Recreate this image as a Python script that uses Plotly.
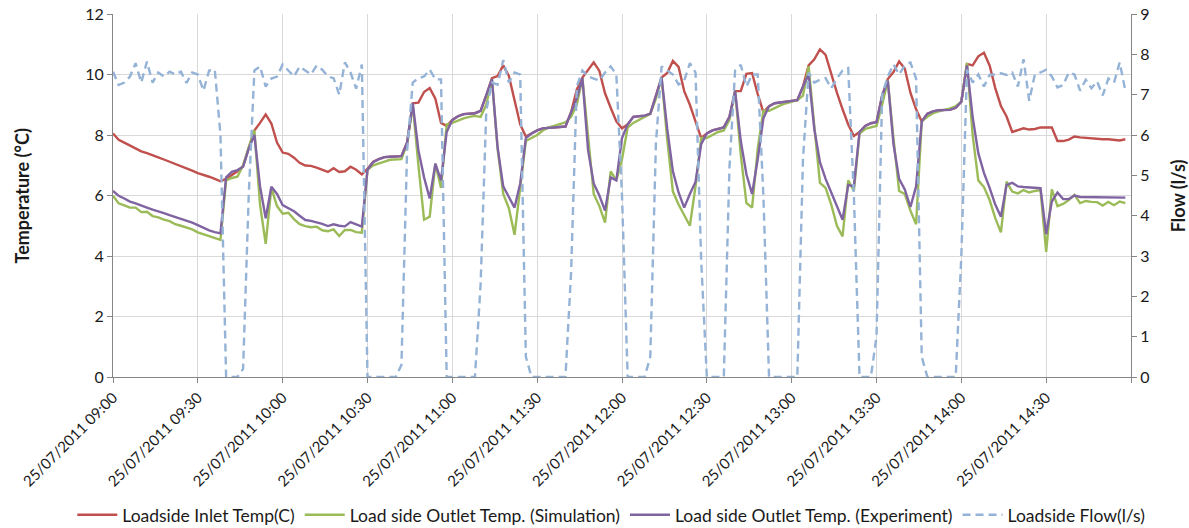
import plotly.graph_objects as go
import pandas as pd

# ---------------- data (2-minute samples, 25/07/2011 09:00 - 14:58) ----------------
times = pd.date_range("2011-07-25 09:00", periods=180, freq="2min")

inlet_temp = [
    8.05, 7.84, 7.75, 7.65, 7.55, 7.46, 7.40, 7.34, 7.26, 7.19, 7.12, 7.05, 6.97, 6.90, 6.82, 6.74, 6.69, 6.62, 6.55, 6.47,
    6.55, 6.68, 6.80, 6.97, 7.60, 8.15, 8.40, 8.68, 8.38, 7.75, 7.42, 7.38, 7.25, 7.08, 6.99, 6.98, 6.92, 6.84, 6.78, 6.90,
    6.78, 6.80, 6.95, 6.85, 6.70,
    6.88, 7.12, 7.20, 7.27, 7.28, 7.29, 7.30, 7.75,
    9.05, 9.07, 9.42, 9.55, 9.20, 8.40, 8.30, 8.50, 8.62, 8.69, 8.70, 8.72, 8.80,
    9.30, 9.88, 9.95, 10.30, 9.95, 9.15, 8.35, 7.95, 8.05, 8.15, 8.22, 8.24, 8.26, 8.27, 8.28, 8.75, 9.50,
    9.90, 10.15, 10.40, 10.12, 9.38, 8.90, 8.45, 8.22, 8.35, 8.60, 8.62, 8.64, 8.70, 9.30, 9.90, 10.05, 10.45, 10.25,
    9.45, 9.00, 8.45, 7.90,
    8.05, 8.15, 8.20, 8.25, 8.60, 9.45, 9.45, 10.02, 10.05, 9.35, 8.75, 8.95, 9.05, 9.08, 9.10, 9.12, 9.15, 9.60, 10.30,
    10.50, 10.83, 10.65, 10.00, 9.40, 8.85, 8.35, 7.97, 8.10, 8.30, 8.39, 8.42, 9.30, 9.85, 10.08, 10.43, 10.20, 9.40,
    8.85, 8.45, 8.70, 8.78, 8.82, 8.83, 8.84, 8.90, 9.10,
    10.35, 10.30, 10.60, 10.72, 10.30, 9.55, 8.96, 8.61, 8.10, 8.15, 8.22, 8.18, 8.20, 8.25, 8.26, 8.25, 7.80, 7.80,
    7.85, 7.95, 7.92, 7.90, 7.88, 7.87, 7.86, 7.86, 7.85, 7.82, 7.86,
]

outlet_sim = [
    5.99, 5.74, 5.67, 5.60, 5.60, 5.45, 5.46, 5.32, 5.28, 5.20, 5.15, 5.05, 5.00, 4.93, 4.88, 4.78, 4.72, 4.64, 4.60, 4.53,
    6.50, 6.58, 6.62, 7.00, 7.60, 8.15, 5.70, 4.40, 6.25, 5.65, 5.40, 5.43, 5.22, 5.05, 4.99, 4.95, 4.97, 4.85, 4.82, 4.88,
    4.66, 4.86, 4.86, 4.79, 4.77,
    6.85, 7.00, 7.05, 7.12, 7.18, 7.19, 7.20, 7.70,
    9.00, 7.00, 5.20, 5.30, 7.05, 6.25, 8.35, 8.40, 8.48, 8.55, 8.60, 8.63, 8.60,
    9.00, 9.85, 7.55, 6.05, 5.58, 4.70, 6.20, 7.80, 7.90, 8.00, 8.15, 8.25, 8.30, 8.37, 8.42, 8.60, 9.00,
    9.88, 7.90, 6.05, 5.65, 5.10, 6.80, 6.50, 7.20, 8.25, 8.40, 8.50, 8.60, 8.70, 9.20, 9.90, 7.85, 6.13, 5.70,
    5.35, 5.00, 6.30, 7.90,
    7.90, 8.00, 8.10, 8.15, 8.50, 9.45, 7.35, 5.75, 5.60, 7.55, 8.80, 8.80, 8.90, 8.98, 9.05, 9.10, 9.15, 9.30, 10.27,
    8.30, 6.42, 6.25, 5.70, 5.00, 4.65, 6.50, 6.15, 8.05, 8.20, 8.25, 8.30, 9.00, 9.80, 7.90, 6.15, 6.05, 5.50,
    5.05, 8.45, 8.60, 8.72, 8.78, 8.82, 8.88, 8.95, 9.10,
    10.38, 8.00, 6.50, 6.28, 5.85, 5.25, 4.78, 6.46, 6.13, 6.07, 6.18, 6.10, 6.15, 6.18, 4.14, 6.20, 5.65, 5.72,
    5.85, 6.02, 5.75, 5.82, 5.79, 5.78, 5.67, 5.79, 5.68, 5.80, 5.75,
]

outlet_exp = [
    6.15, 5.99, 5.90, 5.80, 5.74, 5.68, 5.60, 5.53, 5.48, 5.42, 5.35, 5.29, 5.23, 5.17, 5.10, 5.02, 4.93, 4.85, 4.79, 4.75,
    6.60, 6.78, 6.84, 6.95, 7.55, 8.00, 6.30, 5.25, 6.29, 6.05, 5.68, 5.58, 5.48, 5.33, 5.19, 5.16, 5.12, 5.06, 4.99, 5.05,
    5.00, 4.98, 5.12, 5.05, 4.97,
    6.85, 7.10, 7.20, 7.27, 7.28, 7.29, 7.30, 7.75,
    9.05, 7.50, 6.60, 5.90, 7.05, 6.50, 8.10, 8.50, 8.62, 8.69, 8.70, 8.72, 8.80,
    9.30, 9.85, 7.60, 6.30, 5.95, 5.60, 6.40, 7.90, 8.05, 8.15, 8.22, 8.24, 8.26, 8.27, 8.28, 8.75, 9.20,
    9.88, 7.50, 6.40, 6.00, 5.50, 6.60, 6.50, 7.90, 8.35, 8.60, 8.62, 8.64, 8.70, 9.30, 9.90, 8.20, 6.80, 6.10,
    5.60, 6.05, 6.45, 7.70,
    8.05, 8.15, 8.20, 8.25, 8.60, 9.45, 7.80, 6.70, 6.05, 7.20, 8.55, 8.95, 9.05, 9.08, 9.10, 9.12, 9.15, 9.60, 10.00,
    8.20, 7.10, 6.55, 6.10, 5.60, 5.20, 6.35, 6.30, 8.10, 8.30, 8.39, 8.42, 9.30, 9.80, 7.70, 6.55, 6.20, 5.62,
    6.30, 8.45, 8.70, 8.78, 8.82, 8.83, 8.83, 8.90, 9.10,
    10.30, 8.60, 7.40, 6.75, 6.25, 5.70, 5.30, 6.35, 6.42, 6.30, 6.28, 6.26, 6.25, 6.24, 4.72, 5.80, 6.10, 5.88,
    5.88, 6.00, 5.95, 5.95, 5.95, 5.95, 5.94, 5.93, 5.93, 5.93, 5.93,
]

flow = [
    7.57, 7.24, 7.30, 7.45, 7.78, 7.30, 7.82, 7.30, 7.55, 7.45, 7.57, 7.50, 7.57, 7.29, 7.55, 7.50, 7.10, 7.60, 7.62, 6.00,
    0.00, 0.00, 0.00, 0.20, 4.50, 7.60, 7.70, 7.20, 7.40, 7.45, 7.75, 7.60, 7.45, 7.70, 7.60, 7.50, 7.72, 7.62, 7.45, 7.41,
    7.00, 7.80, 7.55, 7.15, 7.75,
    0.00, 0.00, 0.00, 0.00, 0.00, 0.00, 0.30, 5.60,
    7.30, 7.41, 7.45, 7.62, 7.38, 7.38, 0.00, 0.00, 0.00, 0.00, 0.00, 0.00, 2.30,
    6.60, 7.30, 7.25, 7.86, 7.30, 7.55, 7.50, 0.50, 0.00, 0.00, 0.00, 0.00, 0.00, 0.00, 0.00, 2.60, 7.20,
    7.60, 7.45, 7.40, 7.35, 7.55, 7.70, 7.50, 4.50, 0.00, 0.00, 0.00, 0.00, 0.50, 5.80, 7.70, 7.60, 7.50, 7.25,
    7.35, 7.78, 7.55, 2.90,
    0.00, 0.00, 0.00, 0.00, 5.20, 7.60, 7.74, 7.20, 7.50, 7.50, 4.50, 0.00, 0.00, 0.00, 0.00, 0.00, 0.00, 5.40, 7.55,
    7.30, 7.37, 7.41, 7.16, 7.40, 7.60, 7.66, 4.50, 0.00, 0.00, 0.00, 1.00, 7.00, 7.45, 7.75, 7.50, 7.72, 7.80,
    7.40, 0.50, 0.00, 0.00, 0.00, 0.00, 0.00, 0.00, 3.00,
    7.62, 7.30, 7.50, 7.20, 7.49, 7.50, 7.53, 7.49, 7.55, 7.20, 7.88, 6.85, 7.50, 7.55, 7.62, 7.45, 7.18, 7.24,
    7.55, 7.50, 7.10, 7.37, 7.16, 7.33, 6.98, 7.40, 7.30, 7.80, 7.10,
]

tick_times = pd.date_range("2011-07-25 09:00", "2011-07-25 15:00", freq="30min")
tick_text = [t.strftime("%d/%m/%Y %H:%M") for t in tick_times[:-1]] + [""]

FONT = "Lato, 'Open Sans', sans-serif"
AXIS_GREY = "#868686"
GRID = "#D9D9D9"
TXT = "#1a1a1a"

fig = go.Figure()
fig.add_trace(go.Scatter(x=times, y=inlet_temp, name="Loadside Inlet Temp(C)", mode="lines",
                         line=dict(color="#C0504D", width=2.4)))
fig.add_trace(go.Scatter(x=times, y=outlet_sim, name="Load side Outlet Temp. (Simulation)", mode="lines",
                         line=dict(color="#9BBB59", width=2.4)))
fig.add_trace(go.Scatter(x=times, y=outlet_exp, name="Load side Outlet Temp. (Experiment)", mode="lines",
                         line=dict(color="#8064A2", width=2.4)))
fig.add_trace(go.Scatter(x=times, y=flow, name="Loadside Flow(l/s)", mode="lines", yaxis="y2",
                         line=dict(color="#95B3D7", width=2.4, dash="8px,5px")))

fig.update_layout(
    width=1189, height=528,
    margin=dict(l=113, r=58, t=14, b=151, autoexpand=False),
    paper_bgcolor="white", plot_bgcolor="white",
    font=dict(family=FONT, size=14, color=TXT),
    showlegend=True,
    legend=dict(orientation="h", x=-0.04, xanchor="left", y=-0.38, yanchor="middle",
                font=dict(size=17.5, color=TXT), itemwidth=40, traceorder="normal",
                bgcolor="rgba(0,0,0,0)"),
    xaxis=dict(type="date", range=[tick_times[0], tick_times[-1]], automargin=False,
               tickmode="array", tickvals=list(tick_times), ticktext=tick_text, tickangle=-45,
               ticks="outside", ticklen=5, tickcolor=AXIS_GREY,
               showline=True, linecolor=AXIS_GREY, linewidth=1,
               showgrid=True, gridcolor=GRID, gridwidth=1, zeroline=False,
               tickfont=dict(size=15, color=TXT)),
    yaxis=dict(range=[0, 12], dtick=2, ticks="outside", ticklen=5, tickcolor=AXIS_GREY, automargin=False,
               showline=True, linecolor=AXIS_GREY, linewidth=1,
               showgrid=True, gridcolor=GRID, gridwidth=1, zeroline=False,
               tickfont=dict(size=16, color=TXT)),
    yaxis2=dict(range=[0, 9], dtick=1, overlaying="y", side="right", automargin=False,
                ticks="outside", ticklen=5, tickcolor=AXIS_GREY,
                showline=True, linecolor=AXIS_GREY, linewidth=1,
                showgrid=False, zeroline=False, tickfont=dict(size=16, color=TXT)),
    annotations=[
        dict(text="<b>Temperature (°C)</b>", xref="paper", yref="paper", x=-0.0894, y=0.5,
             xanchor="center", yanchor="middle", textangle=-90, showarrow=False,
             font=dict(size=18, family=FONT, color=TXT)),
        dict(text="<b>Flow (l/s)</b>", xref="paper", yref="paper", x=1.046, y=0.5,
             xanchor="center", yanchor="middle", textangle=-90, showarrow=False,
             font=dict(size=18, family=FONT, color=TXT)),
    ],
)

fig.write_html("out.html")
